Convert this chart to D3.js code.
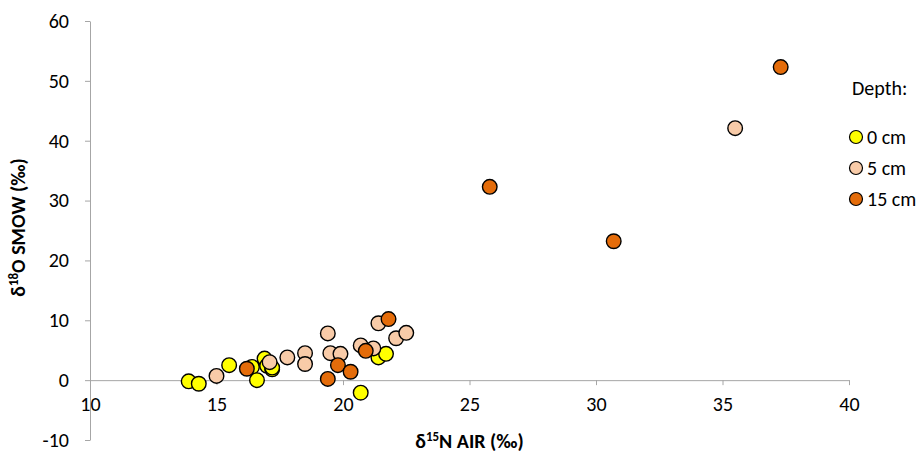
<!DOCTYPE html>
<html>
<head>
<meta charset="utf-8">
<script src="https://cdn.jsdelivr.net/npm/d3@7"></script>
<style>
  body { margin: 0; background: #fff; }
  svg text { font-family: Carlito, "Open Sans", "Liberation Sans", sans-serif; fill: #000; }
</style>
</head>
<body>
<div id="chart"></div>
<script>
// Data: [d15N, d18O]
const depth0 = [[13.9, -0.2], [14.3, -0.6], [15.5, 2.5], [16.4, 2.2], [16.6, 0.0], [16.9, 3.6],
                [17.0, 2.4], [17.2, 1.8], [17.2, 2.1], [20.7, -2.1], [21.4, 3.8], [21.7, 4.4]];
const depth5 = [[15.0, 0.7], [17.1, 3.0], [17.8, 3.8], [18.5, 4.5], [18.5, 2.7], [19.4, 7.8],
                [19.5, 4.5], [19.9, 4.4], [20.7, 5.8], [21.2, 5.3], [21.4, 9.5], [22.1, 7.0],
                [22.5, 7.9], [35.5, 42.1]];
const depth15 = [[16.2, 1.9], [19.4, 0.2], [19.8, 2.5], [20.3, 1.4], [20.9, 4.9], [21.8, 10.2],
                 [25.8, 32.3], [30.7, 23.2], [37.3, 52.3]];

const seriesNames = ["0 cm", "5 cm", "15 cm"];
const seriesColors = ["#ffff00", "#f8cba8", "#e46c0a"];
const xTicks = [10, 15, 20, 25, 30, 35, 40];
const yTicks = [-10, 0, 10, 20, 30, 40, 50, 60];

const width = 921, height = 454;
const svg = d3.select("#chart").append("svg")
  .attr("width", width)
  .attr("height", height);

// Scales
const x = d3.scaleLinear().domain([10, 40]).range([90, 849]);
const y = d3.scaleLinear().domain([-10, 60]).range([440, 21]);
const axisColor = "#a6a6a6";

// Y axis (at x = 10)
const yAxis = svg.append("g")
  .attr("transform", `translate(${x(10)},0)`)
  .call(d3.axisLeft(y).tickValues(yTicks).tickFormat(d => String(d))
    .tickSize(5).tickPadding(16).tickSizeOuter(0));
yAxis.select(".domain").attr("stroke", axisColor);
yAxis.selectAll(".tick line").attr("stroke", axisColor);
yAxis.selectAll(".tick text").style("font-size", "20px");

// X axis (crosses at y = 0)
const xAxis = svg.append("g")
  .attr("transform", `translate(0,${y(0)})`)
  .call(d3.axisBottom(x).tickValues(xTicks).tickSize(5).tickPadding(12).tickSizeOuter(0));
xAxis.select(".domain").attr("stroke", axisColor);
xAxis.selectAll(".tick line").attr("stroke", axisColor);
xAxis.selectAll(".tick text").style("font-size", "20px");

// Points
const allSeries = [depth0, depth5, depth15];
allSeries.forEach((pts, i) => {
  svg.append("g").selectAll("circle")
    .data(pts)
    .enter().append("circle")
    .attr("cx", d => x(d[0]))
    .attr("cy", d => y(d[1]))
    .attr("r", 7.3)
    .attr("fill", seriesColors[i])
    .attr("stroke", "#000")
    .attr("stroke-width", 1.4);
});

// Axis titles
const yTitle = svg.append("text")
  .attr("transform", `translate(25,${(y(60) + y(-10)) / 2 - 3}) rotate(-90)`)
  .attr("text-anchor", "middle")
  .style("font-size", "20px")
  .style("font-weight", "bold");
yTitle.append("tspan").text("δ");
yTitle.append("tspan").attr("dy", -7).style("font-size", "13px").text("18");
yTitle.append("tspan").attr("dy", 7).text("O SMOW (‰)");

const xTitle = svg.append("text")
  .attr("x", (x(10) + x(40)) / 2)
  .attr("y", 448)
  .attr("text-anchor", "middle")
  .style("font-size", "20px")
  .style("font-weight", "bold");
xTitle.append("tspan").text("δ");
xTitle.append("tspan").attr("dy", -7).style("font-size", "13px").text("15");
xTitle.append("tspan").attr("dy", 7).text("N AIR (‰)");

// Legend
svg.append("text")
  .attr("x", 852)
  .attr("y", 95)
  .style("font-size", "20px")
  .text("Depth:");

const legend = svg.append("g")
  .selectAll("g")
  .data(seriesNames)
  .enter().append("g")
  .attr("transform", (d, i) => `translate(856, ${137 + i * 31})`);

legend.append("circle")
  .attr("r", 6.5)
  .attr("fill", (d, i) => seriesColors[i])
  .attr("stroke", "#000")
  .attr("stroke-width", 1.2);

legend.append("text")
  .attr("x", 11)
  .attr("dy", "0.35em")
  .style("font-size", "20px")
  .text(d => d);
</script>
</body>
</html>
